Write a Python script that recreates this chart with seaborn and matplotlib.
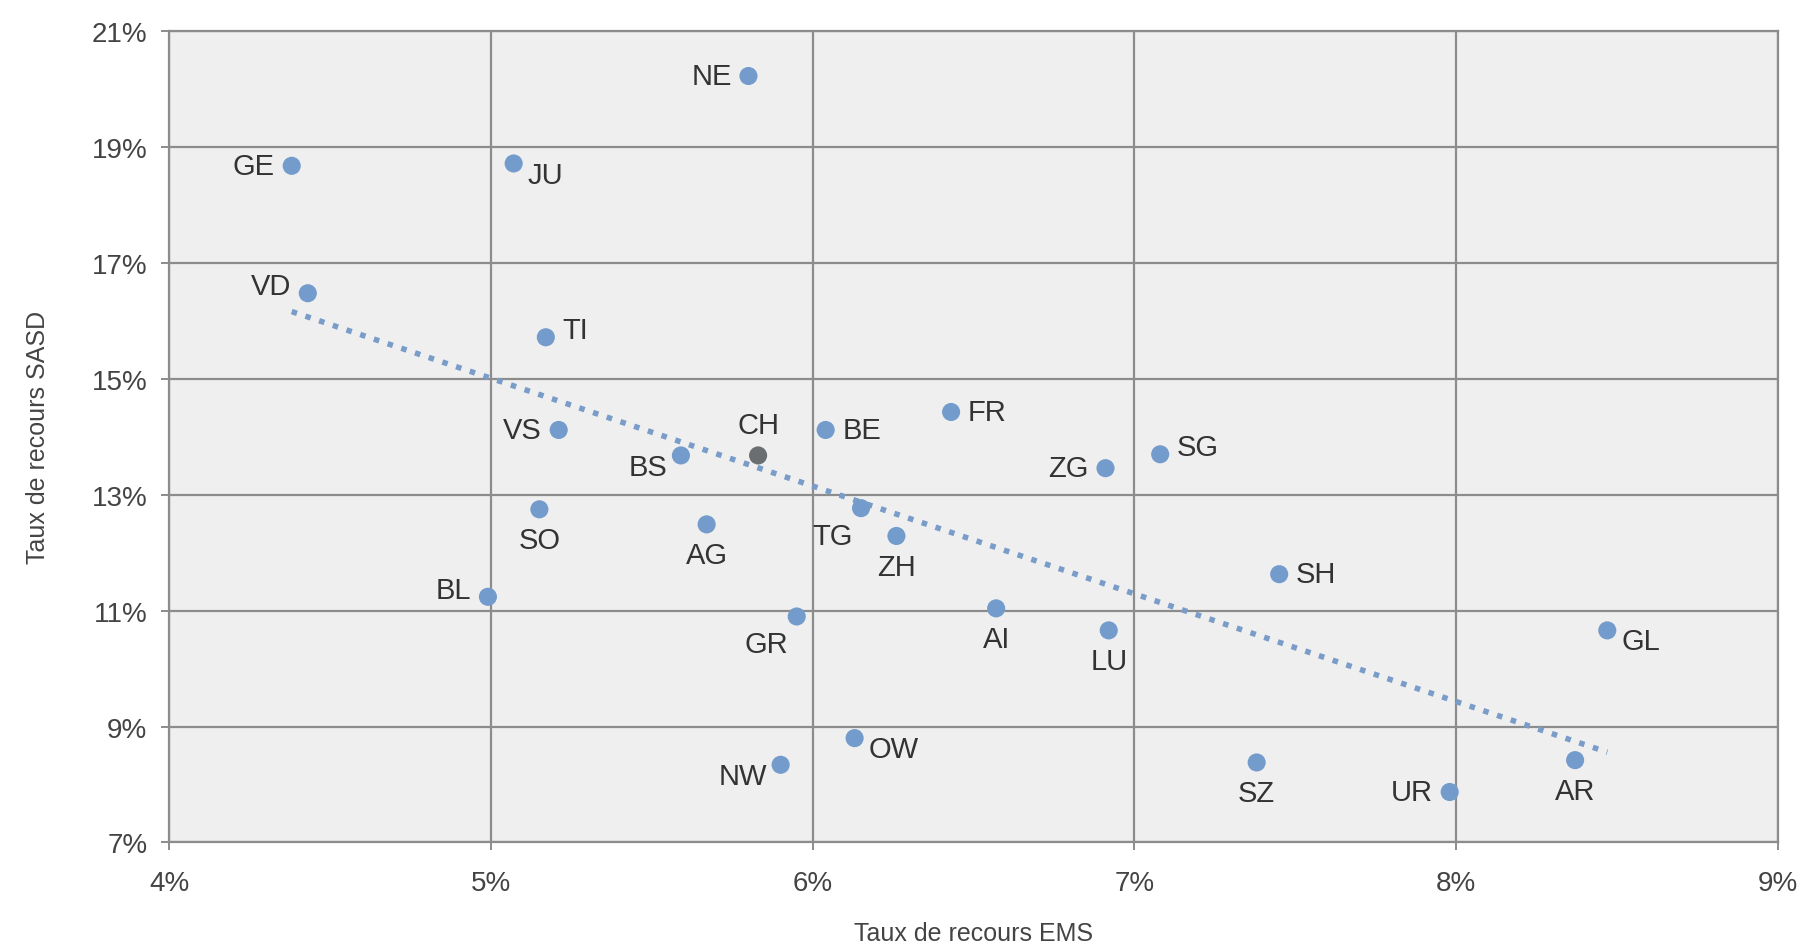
import matplotlib
matplotlib.use("Agg")
import matplotlib.pyplot as plt
import seaborn as sns
import pandas as pd
from matplotlib.ticker import FuncFormatter

# data (in %)
cantons = ["NE", "GE", "JU", "VD", "TI", "VS", "BS", "CH", "BE", "FR", "ZG", "SG", "SO", "AG",
           "TG", "ZH", "SH", "BL", "AI", "GR", "LU", "GL", "OW", "NW", "SZ", "UR", "AR"]
ems = [5.80, 4.38, 5.07, 4.43, 5.17, 5.21, 5.59, 5.83, 6.04, 6.43, 6.91, 7.08, 5.15, 5.67,
       6.15, 6.26, 7.45, 4.99, 6.57, 5.95, 6.92, 8.47, 6.13, 5.90, 7.38, 7.98, 8.37]
sasd = [20.23, 18.68, 18.72, 16.48, 15.72, 14.12, 13.68, 13.68, 14.12, 14.43, 13.46, 13.70, 12.75, 12.49,
        12.77, 12.29, 11.63, 11.24, 11.04, 10.90, 10.66, 10.66, 8.80, 8.34, 8.38, 7.87, 8.42]
x_ticks = [4, 5, 6, 7, 8, 9]
y_ticks = [7, 9, 11, 13, 15, 17, 19, 21]
# where each label sits relative to its point
label_side = ["l", "l", "rb", "lt", "rt", "l", "lb", "t", "r", "r", "l", "rt", "b", "b",
              "bl", "b", "r", "lt", "b", "bl", "b", "rb", "rb", "lb", "b", "l", "b"]

df = pd.DataFrame({"canton": cantons, "ems": ems, "sasd": sasd})
df["group"] = ["Suisse" if c == "CH" else "canton" for c in cantons]

sns.set_style("whitegrid")
plt.rcParams["font.family"] = ["Liberation Sans Narrow", "Liberation Sans", "DejaVu Sans"]

fig = plt.figure(figsize=(18.03, 9.53), dpi=100)
ax = fig.add_axes([0.094, 0.115, 0.892, 0.851])
ax.set_facecolor("#efefef")

sns.regplot(data=df, x="ems", y="sasd", ax=ax, scatter=False, ci=None,
            line_kws={"color": "#7a9cc8", "linestyle": (0, (1, 1.6)), "linewidth": 4})
sns.scatterplot(data=df, x="ems", y="sasd", hue="group", ax=ax, s=170,
                palette={"canton": "#739bcb", "Suisse": "#6b6e70"}, edgecolor="none",
                legend=False, zorder=3)

offsets = {"l": (-12, 0, "right", "center"), "r": (12, 0, "left", "center"),
           "t": (0, 12, "center", "bottom"), "b": (0, -12, "center", "top"),
           "lt": (-12, 5, "right", "center"), "rt": (12, 5, "left", "center"),
           "lb": (-10, -8, "right", "center"), "rb": (10, -8, "left", "center"),
           "bl": (-6, -10, "right", "top")}
for c, x, y, side in zip(cantons, ems, sasd, label_side):
    dx, dy, ha, va = offsets[side]
    ax.annotate(c, (x, y), xytext=(dx, dy), textcoords="offset points",
                ha=ha, va=va, fontsize=21, color="#333333")

ax.set_xlim(x_ticks[0], x_ticks[-1])
ax.set_ylim(y_ticks[0], y_ticks[-1])
ax.set_xticks(x_ticks)
ax.set_yticks(y_ticks)
pct = FuncFormatter(lambda v, p: f"{v:.0f}%")
ax.xaxis.set_major_formatter(pct)
ax.yaxis.set_major_formatter(pct)
ax.grid(True, color="#8c8c8c", linewidth=1.6)
for s in ax.spines.values():
    s.set_color("#8c8c8c")
    s.set_linewidth(1.6)
ax.tick_params(axis="both", labelsize=20, labelcolor="#444444", length=6, color="#8c8c8c",
               width=1.4, bottom=True, left=True)
ax.tick_params(axis="x", pad=14)
ax.tick_params(axis="y", pad=10)
ax.set_xlabel("Taux de recours EMS", fontsize=18, color="#444444", labelpad=18)
ax.set_ylabel("Taux de recours SASD", fontsize=18, color="#444444", labelpad=30)

fig.savefig("out.png", dpi=100)
